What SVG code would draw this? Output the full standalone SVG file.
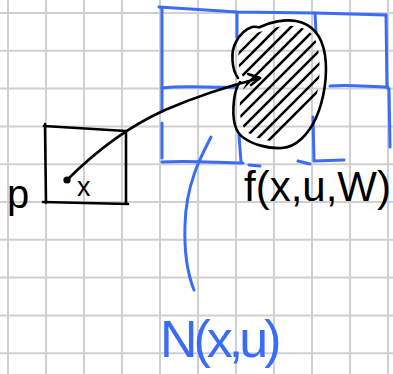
<svg xmlns="http://www.w3.org/2000/svg" width="393" height="374" viewBox="0 0 393 374">
<style>
.grid line{stroke:#d0d0d0;stroke-width:2}
.blk{fill:none;stroke:#000;stroke-width:2.6;stroke-linecap:round;stroke-linejoin:round}
.blue{fill:none;stroke:#3a6cf6;stroke-width:3;stroke-linecap:round;stroke-linejoin:round}
.hatch line{stroke:#000;stroke-width:2.6;stroke-linecap:round}
.tb{font-family:"Liberation Sans",Arial,sans-serif;fill:#000}
.tbl{font-family:"Liberation Sans",Arial,sans-serif;fill:#3a6cf6}
</style>
<defs>
<clipPath id="inner">
<path d="M 244,78 C 238,70 236,54 241,46 C 245,38 250,34 256,33 C 262,31 266,31 270,29 C 284,25 296,25 302,28 C 314,32 318,42 319,57 C 321,77 318,98 310,115 C 303,130 294,140 282,141 C 270,142 257,139 250,134 C 242,129 239,118 240,102 C 241,94 243,88 246,84 Z"/>
</clipPath>
</defs>
<rect width="393" height="374" fill="#fff"/>
<g class="grid" id="grid">
<line x1="8" y1="0" x2="8" y2="374"/><line x1="46" y1="0" x2="46" y2="374"/><line x1="84" y1="0" x2="84" y2="374"/><line x1="122" y1="0" x2="122" y2="374"/><line x1="160" y1="0" x2="160" y2="374"/><line x1="198" y1="0" x2="198" y2="374"/><line x1="236" y1="0" x2="236" y2="374"/><line x1="274" y1="0" x2="274" y2="374"/><line x1="312" y1="0" x2="312" y2="374"/><line x1="350" y1="0" x2="350" y2="374"/><line x1="388" y1="0" x2="388" y2="374"/>
<line x1="0" y1="13" x2="393" y2="13"/><line x1="0" y1="50.8" x2="393" y2="50.8"/><line x1="0" y1="88.6" x2="393" y2="88.6"/><line x1="0" y1="126.4" x2="393" y2="126.4"/><line x1="0" y1="164.2" x2="393" y2="164.2"/><line x1="0" y1="202" x2="393" y2="202"/><line x1="0" y1="239.8" x2="393" y2="239.8"/><line x1="0" y1="277.6" x2="393" y2="277.6"/><line x1="0" y1="315.4" x2="393" y2="315.4"/><line x1="0" y1="353.2" x2="393" y2="353.2"/>
</g>
<g id="node-N">
<path class="blue" d="M 159,7 L 237,12 L 315,13 L 386,15"/>
<path class="blue" d="M 162,8 L 162,110"/>
<path class="blue" d="M 162,123 L 162,158"/>
<path class="blue" d="M 237,12 L 237,37"/>
<path class="blue" d="M 315,13 L 316,33"/>
<path class="blue" d="M 386,15 L 387,88 L 389,89 L 390,147"/>
<path class="blue" d="M 162,88 C 185,85 210,88 235,87"/>
<path class="blue" d="M 330,86 C 350,84 370,87 388,87"/>
<path class="blue" d="M 239,135 L 241,162"/>
<path class="blue" d="M 162,162 C 190,160 220,163 243,163"/>
<path class="blue" d="M 249,165 L 260,166"/>
<path class="blue" d="M 298,161 L 310,164"/>
<path class="blue" d="M 313,117 L 314,161 L 344,160"/>
<path class="blue" d="M 211,137 C 200,158 186,185 185,225 C 184,255 188,275 194,290"/>
<text class="tbl" x="160" y="357" font-size="52" letter-spacing="-4">N(x,u)</text>
</g>
<g id="node-f">
<path class="blk" d="M 238,78 C 232,70 230,52 236,42 C 240,34 246,29 252,27 C 256,26 258,28 260,27 C 270,22 285,19 296,21 C 312,24 322,36 325,55 C 328,75 324,100 316,118 C 308,135 296,147 282,148 C 268,149 252,144 244,138 C 234,132 232,118 234,100 C 235,92 237,86 240,82"/>
<g class="hatch" clip-path="url(#inner)">
<line x1="132" y1="160" x2="282" y2="10"/>
<line x1="145" y1="160" x2="295" y2="10"/>
<line x1="158" y1="160" x2="308" y2="10"/>
<line x1="171" y1="160" x2="321" y2="10"/>
<line x1="184" y1="160" x2="334" y2="10"/>
<line x1="197" y1="160" x2="347" y2="10"/>
<line x1="210" y1="160" x2="360" y2="10"/>
<line x1="223" y1="160" x2="373" y2="10"/>
<line x1="236" y1="160" x2="386" y2="10"/>
<line x1="249" y1="160" x2="399" y2="10"/>
</g>
<text class="tb" x="244" y="201" font-size="42">f(x,u,W)</text>
</g>
<g id="node-p">
<path class="blk" d="M 45,124 L 46,203 M 44,126 L 126,131 L 126,204 M 43,202 L 128,204"/>
<circle cx="67" cy="180" r="3.6" fill="#000"/>
<text class="tb" x="77" y="196" font-size="27">x</text>
<text class="tb" x="7" y="208" font-size="40">p</text>
</g>
<g id="connectors">
<path class="blk" d="M 67,180 C 95,152 125,128 165,110 C 195,97 225,87 260,78"/>
<path class="blk" d="M 248,74 L 260,78 L 251,85"/>
</g>
</svg>
